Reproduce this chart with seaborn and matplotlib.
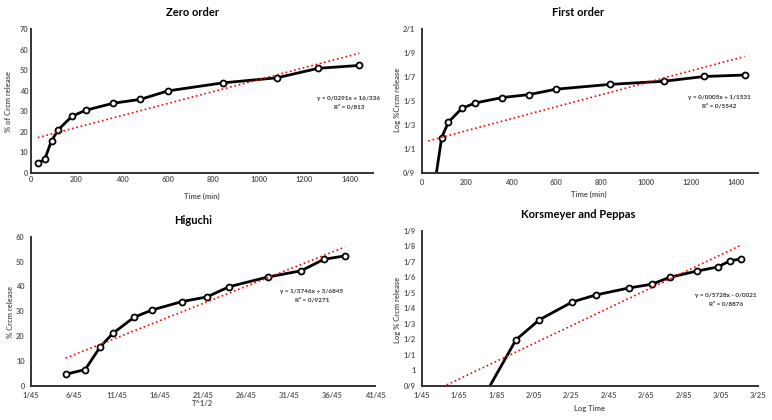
import warnings
warnings.filterwarnings('ignore')

import numpy as np
import matplotlib
matplotlib.use('Agg')
import matplotlib.pyplot as plt
import seaborn as sns

sns.set_style('white')
plt.rcParams['font.family'] = ['Lato', 'DejaVu Sans']

# 数据
time_min = [30, 60, 90, 120, 180, 240, 360, 480, 600, 840, 1080, 1260, 1440]
release = [4.7, 6.6, 15.7, 21.1, 27.6, 30.5, 33.9, 35.8, 39.9, 43.8, 46.3, 50.9, 52.3]
log_release = [0.67, 0.82, 1.196, 1.325, 1.44, 1.485, 1.53, 1.555, 1.60, 1.64, 1.666, 1.706, 1.718]
sqrt_time = [5.48, 7.75, 9.49, 10.95, 13.42, 15.49, 18.97, 21.91, 24.49, 28.98, 32.86, 35.50, 37.95]
log_time = [1.477, 1.778, 1.954, 2.079, 2.255, 2.380, 2.556, 2.681, 2.778, 2.924, 3.033, 3.100, 3.158]

# 趋势线系数
slopes = [0.0291, 0.0005, 1.3746, 0.5728]
intercepts = [16.336, 1.1531, 3.6845, -0.0021]
eq_texts = ['y = 0/0291x + 16/336\nR² = 0/813',
            'y = 0/0005x + 1/1531\nR² = 0/5542',
            'y = 1/3746x + 3/6845\nR² = 0/9271',
            'y = 0/5728x - 0/0021\nR² = 0/8876']

titles = ['Zero order', 'First order', 'Higuchi', 'Korsmeyer and Peppas']
xlabels = ['Time (min)', 'Time (min)', 'T^1/2', 'Log Time']
ylabels = ['% of Crcm release', 'Log %Crcm release', '% Crcm release', 'Log % Crcm release']

# 刻度
zero_yticks = [0, 10, 20, 30, 40, 50, 60, 70]
time_xticks = [0, 200, 400, 600, 800, 1000, 1200, 1400]
first_yticks = [0.9, 1.1, 1.3, 1.5, 1.7, 1.9, 2.1]
first_ylabels = ['0/9', '1/1', '1/3', '1/5', '1/7', '1/9', '2/1']
hig_yticks = [0, 10, 20, 30, 40, 50, 60]
hig_xticks = [1.45, 6.45, 11.45, 16.45, 21.45, 26.45, 31.45, 36.45, 41.45]
hig_xlabels = ['1/45', '6/45', '11/45', '16/45', '21/45', '26/45', '31/45', '36/45', '41/45']
kp_yticks = [0.9, 1.0, 1.1, 1.2, 1.3, 1.4, 1.5, 1.6, 1.7, 1.8, 1.9]
kp_ylabels = ['0/9', '1', '1/1', '1/2', '1/3', '1/4', '1/5', '1/6', '1/7', '1/8', '1/9']
kp_xticks = [1.45, 1.65, 1.85, 2.05, 2.25, 2.45, 2.65, 2.85, 3.05, 3.25]
kp_xlabels = ['1/45', '1/65', '1/85', '2/05', '2/25', '2/45', '2/65', '2/85', '3/05', '3/25']

W, H = 772, 420
fig = plt.figure(figsize=(W / 100, H / 100), dpi=100)

# 坐标轴位置（像素：左, 右, 上, 下）
boxes = [(31, 373, 29, 173), (421.5, 758, 29.3, 173),
         (31, 375, 236.7, 386), (421.7, 758.3, 230.7, 385.7)]
axes = []
for l, r, t, b in boxes:
    axes.append(fig.add_axes([l / W, 1 - b / H, (r - l) / W, (b - t) / H]))

xs = [time_min, time_min, sqrt_time, log_time]
ys = [release, log_release, release, log_release]
xlims = [(0, 1500), (0, 1500), (1.45, 41.45), (1.45, 3.25)]
ylims = [(0, 70), (0.9, 2.1), (0, 60), (0.9, 1.9)]

gray = '#595959'
for i, ax in enumerate(axes):
    x = xs[i]
    y = ys[i]
    x_end = np.array([x[0], x[-1]])
    ax.plot(x_end, slopes[i] * x_end + intercepts[i], color='red', ls=':', lw=1.2, zorder=3)
    sns.lineplot(x=x, y=y, ax=ax, color='black', lw=2, marker='o', markersize=4.3,
                 markerfacecolor='white', markeredgecolor='black', markeredgewidth=1.3, zorder=2)
    ax.set_xlim(xlims[i])
    ax.set_ylim(ylims[i])
    ax.set_xlabel('')
    ax.set_ylabel('')
    for s in ['top', 'right']:
        ax.spines[s].set_visible(False)
    for s in ['left', 'bottom']:
        ax.spines[s].set_color('#333333')
        ax.spines[s].set_linewidth(1.4)
    ax.tick_params(colors='#333333', length=2.5 if i > 0 else 0, width=1, pad=2)

axes[0].set_xticks(time_xticks)
axes[0].set_yticks(zero_yticks)
axes[1].set_xticks(time_xticks)
axes[1].set_yticks(first_yticks, first_ylabels)
axes[2].set_xticks(hig_xticks, hig_xlabels)
axes[2].set_yticks(hig_yticks)
axes[3].set_xticks(kp_xticks, kp_xlabels)
axes[3].set_yticks(kp_yticks, kp_ylabels)
for ax in axes:
    for lab in ax.get_xticklabels() + ax.get_yticklabels():
        lab.set_fontweight('bold')
        lab.set_fontsize(5.4)
        lab.set_color(gray)

# 标题、轴标签和公式（像素位置）
title_pos = [(192, 13), (578, 13), (193, 221), (578, 214)]
xlab_pos = [(202, 196), (589, 194), (202, 404), (590, 408)]
ylab_pos = [(9, 102), (397, 100), (11, 312), (397, 310)]
eq_pos = [(349, 102.5), (719.5, 102), (312, 296), (726, 299.5)]

for i in range(4):
    tx, ty = title_pos[i]
    fig.text(tx / W, 1 - ty / H, titles[i], ha='center', va='center', fontsize=8,
             fontweight='bold', color='black')
    lx, ly = xlab_pos[i]
    fig.text(lx / W, 1 - ly / H, xlabels[i], ha='center', va='center', fontsize=5.5,
             fontweight='bold', color=gray)
    yx, yy = ylab_pos[i]
    fig.text(yx / W, 1 - yy / H, ylabels[i], ha='center', va='center', fontsize=5.5,
             fontweight='bold', color=gray, rotation=90)
    ex, ey = eq_pos[i]
    fig.text(ex / W, 1 - ey / H, eq_texts[i], ha='center', va='center', fontsize=4.6,
             fontweight='bold', color='#333333', multialignment='center', linespacing=1.6)

fig.savefig('out.png', dpi=100)
